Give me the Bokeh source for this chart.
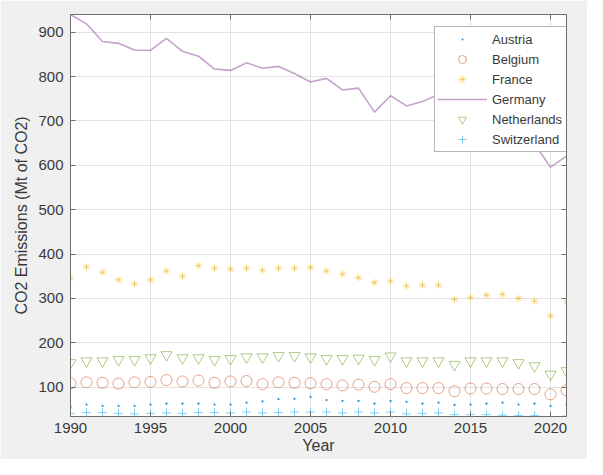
from bokeh.plotting import figure
from bokeh.models import Range1d, FixedTicker, LinearAxis, Legend, LegendItem, CustomLabelingPolicy
from bokeh.embed import file_html
from bokeh.resources import INLINE

years = [1990, 1991, 1992, 1993, 1994, 1995, 1996, 1997, 1998, 1999,
         2000, 2001, 2002, 2003, 2004, 2005, 2006, 2007, 2008, 2009,
         2010, 2011, 2012, 2013, 2014, 2015, 2016, 2017, 2018, 2019,
         2020, 2021]

austria = [56, 61, 58, 58, 58, 61, 63, 63, 63, 61,
           61, 65, 68, 73, 74, 78, 71, 69, 69, 63,
           69, 67, 63, 65, 60, 61, 63, 65, 61, 63,
           58, 61]
belgium = [109, 111, 110, 108, 111, 112, 116, 113, 115, 110,
           113, 114, 107, 111, 110, 109, 107, 104, 106, 101,
           107, 98, 98, 98, 91, 97, 97, 96, 96, 96,
           84, 93]
france = [346, 371, 359, 342, 333, 342, 362, 350, 374, 368,
          366, 368, 364, 368, 368, 370, 362, 355, 347, 336,
          339, 328, 330, 330, 298, 302, 307, 309, 300, 294,
          261, 292]
germany = [940, 919, 879, 875, 860, 859, 886, 857, 846, 817,
           814, 831, 819, 823, 807, 788, 796, 770, 774, 720,
           757, 734, 744, 760, 723, 730, 732, 719, 696, 648,
           596, 621]
netherlands = [155, 159, 159, 162, 162, 166, 173, 166, 166, 162,
               164, 168, 168, 171, 171, 168, 164, 164, 165, 162,
               170, 159, 159, 159, 151, 159, 159, 159, 155, 148,
               129, 137]
switzerland = [41, 43, 43, 41, 40, 41, 42, 41, 43, 43,
               42, 44, 42, 43, 44, 44, 44, 42, 44, 42,
               44, 40, 41, 42, 38, 38, 38, 37, 36, 36,
               34, 35]

x_ticks = [1990, 1995, 2000, 2005, 2010, 2015, 2020]
y_ticks = [100, 200, 300, 400, 500, 600, 700, 800, 900]

all_vals = austria + belgium + france + germany + netherlands + switzerland
ymin, ymax = min(all_vals), max(all_vals)

FONT = "Liberation Sans"
TXT = "#3a3a3a"
AX = "#6e6e6e"

p = figure(width=587, height=459, output_backend="svg", toolbar_location=None,
           x_range=Range1d(years[0], years[-1]), y_range=Range1d(ymin, ymax),
           min_border_left=70, min_border_right=2, min_border_top=14, min_border_bottom=43,
           background_fill_color="white", border_fill_color="#f0f0f0")
p.outline_line_color = AX
p.outline_line_width = 1

for ax, ticks in ((p.xaxis[0], x_ticks), (p.yaxis[0], y_ticks)):
    ax.ticker = FixedTicker(ticks=ticks)
    ax.major_tick_in = 5
    ax.major_tick_out = 0
    ax.minor_tick_in = 0
    ax.minor_tick_out = 0
    ax.axis_line_color = AX
    ax.major_tick_line_color = AX
    ax.major_label_text_font = FONT
    ax.major_label_text_font_size = "15px"
    ax.major_label_text_color = TXT
    ax.axis_label_text_font = FONT
    ax.axis_label_text_font_size = "16px"
    ax.axis_label_text_font_style = "normal"
    ax.axis_label_text_color = TXT

p.xaxis.axis_label = "Year"
p.yaxis.axis_label = "CO2 Emissions (Mt of CO2)"
p.xaxis.major_label_standoff = 6
p.xaxis.axis_label_standoff = 1
p.yaxis.major_label_standoff = 7
p.yaxis.axis_label_standoff = 5

for loc, ticks in (("above", x_ticks), ("right", y_ticks)):
    ax = LinearAxis(ticker=FixedTicker(ticks=ticks), major_tick_in=5, major_tick_out=0,
                    minor_tick_in=0, minor_tick_out=0, major_label_standoff=0,
                    major_label_policy=CustomLabelingPolicy(code="return []"),
                    axis_line_color=AX, major_tick_line_color=AX)
    p.add_layout(ax, loc)

p.xgrid.grid_line_color = "#e3e3e3"
p.ygrid.grid_line_color = "#e3e3e3"
p.xgrid.ticker = FixedTicker(ticks=x_ticks)
p.ygrid.ticker = FixedTicker(ticks=y_ticks)

r_aut = p.scatter(years, austria, marker="dot", size=9, color="#0072BD", alpha=0.8)
r_bel = p.scatter(years, belgium, marker="circle", size=11, fill_color=None,
                  line_color="#D95319", line_alpha=0.55, line_width=1)
r_fra = p.scatter(years, france, marker="asterisk", size=7, line_color="#EDB120",
                  line_alpha=0.5, line_width=1)
r_ger = p.line(years, germany, line_color="#7E2F8E", line_alpha=0.45, line_width=1.6)
r_ned = p.scatter(years, netherlands, marker="inverted_triangle", size=11, fill_color=None,
                  line_color="#77AC30", line_alpha=0.6, line_width=1)
r_sui = p.scatter(years, switzerland, marker="cross", size=9, line_color="#4DBEEE",
                  line_alpha=0.7, line_width=1)

legend = Legend(items=[
    LegendItem(label="Austria", renderers=[r_aut]),
    LegendItem(label="Belgium", renderers=[r_bel]),
    LegendItem(label="France", renderers=[r_fra]),
    LegendItem(label="Germany", renderers=[r_ger]),
    LegendItem(label="Netherlands", renderers=[r_ned]),
    LegendItem(label="Switzerland", renderers=[r_sui]),
], location=(364, 264))
legend.margin = 0
legend.padding = 2
legend.spacing = 0
legend.glyph_width = 50
legend.glyph_height = 20
legend.label_height = 20
legend.label_width = 76
legend.label_standoff = 5
legend.label_text_font = FONT
legend.label_text_font_size = "13px"
legend.label_text_color = TXT
legend.border_line_color = AX
legend.border_line_width = 1
legend.background_fill_color = "white"
legend.background_fill_alpha = 1
p.add_layout(legend)

open("out.html", "w").write(file_html(p, INLINE))
